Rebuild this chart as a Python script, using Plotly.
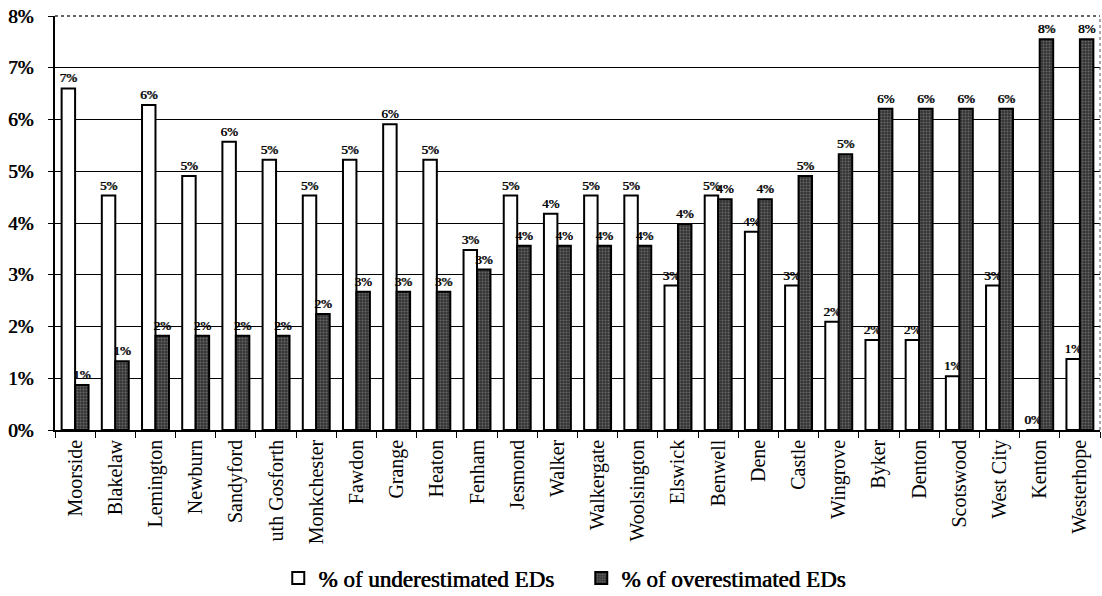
import plotly.graph_objects as go

# Wards (tick labels as printed on the axis)
wards = [
    "Moorside", "Blakelaw", "Lemington", "Newburn", "Sandyford", "uth Gosforth",
    "Monkchester", "Fawdon", "Grange", "Heaton", "Fenham", "Jesmond", "Walker",
    "Walkergate", "Woolsington", "Elswick", "Benwell", "Dene", "Castle",
    "Wingrove", "Byker", "Denton", "Scotswood", "West City", "Kenton", "Westerhope",
]

# Share of enumeration districts that were underestimated (fraction)
underestimated = [
    0.0660, 0.0453, 0.0628, 0.0491, 0.0557, 0.0522,
    0.0453, 0.0522, 0.0591, 0.0522, 0.0348, 0.0453, 0.0418,
    0.0453, 0.0453, 0.0279, 0.0453, 0.0383, 0.0279,
    0.0209, 0.0174, 0.0174, 0.0104, 0.0279, 0.0, 0.0137,
]

# Share of enumeration districts that were overestimated (fraction)
overestimated = [
    0.0087, 0.0133, 0.0182, 0.0182, 0.0182, 0.0182,
    0.0224, 0.0267, 0.0267, 0.0267, 0.0310, 0.0356, 0.0356,
    0.0356, 0.0356, 0.0398, 0.0446, 0.0446, 0.0491,
    0.0533, 0.0621, 0.0621, 0.0621, 0.0621, 0.0755, 0.0755,
]

y_ticks = [0, 0.01, 0.02, 0.03, 0.04, 0.05, 0.06, 0.07, 0.08]

SERIF = "Liberation Serif"
# a thin horizontal shadow thickens the serif strokes
HEAVY = "0.7px 0px 0px black"
label_font = dict(family=SERIF, size=13, color="black", shadow=HEAVY)

fig = go.Figure()

fig.add_trace(go.Bar(
    x=wards, y=underestimated, name="% of underestimated EDs",
    marker=dict(color="white", line=dict(color="black", width=2)),
    texttemplate="%{y:.0%}", textposition="outside",
    textfont=label_font, constraintext="none", cliponaxis=False,
))

fig.add_trace(go.Bar(
    x=wards, y=overestimated, name="% of overestimated EDs",
    marker=dict(
        color="#333333",
        line=dict(color="black", width=2),
        pattern=dict(shape=".", bgcolor="#333333", fgcolor="#a0a0a0",
                     size=3, solidity=0.35),
    ),
    texttemplate="%{y:.0%}", textposition="outside",
    textfont=label_font, constraintext="none", cliponaxis=False,
))

fig.update_layout(
    width=1102, height=596,
    margin=dict(l=55, r=2, t=16, b=166),
    paper_bgcolor="white", plot_bgcolor="white",
    barmode="group", bargap=0.33, bargroupgap=0,
    font=dict(family=SERIF, color="black"),
    showlegend=True,
    legend=dict(
        orientation="h", xref="container", yref="container",
        x=0.2525, xanchor="left", y=0.030, yanchor="middle",
        font=dict(family=SERIF, size=23, color="black", shadow=HEAVY),
        itemwidth=30, entrywidth=258, bgcolor="rgba(0,0,0,0)",
        traceorder="normal",
    ),
    xaxis=dict(
        type="category", tickangle=-90,
        tickfont=dict(family=SERIF, size=20, color="black"),
        showline=True, linecolor="black", linewidth=1.5,
        ticks="outside", tickson="boundaries", ticklen=6, tickcolor="black",
        tickwidth=1.2, showgrid=False,
    ),
    yaxis=dict(
        range=[0, 0.08], tickvals=y_ticks, tickformat=".0%",
        tickfont=dict(family=SERIF, size=19, color="black", shadow=HEAVY),
        showline=True, linecolor="black", linewidth=1.5,
        ticks="outside", ticklen=5, tickcolor="black", tickwidth=1.2,
        showgrid=True, gridcolor="black", gridwidth=1.2,
        zeroline=False, ticklabelstandoff=11,
    ),
    shapes=[
        dict(type="line", xref="paper", yref="paper", x0=1, x1=1, y0=0, y1=1,
             line=dict(color="#555555", width=1, dash="dot")),
        dict(type="line", xref="paper", yref="paper", x0=0, x1=1, y0=1, y1=1,
             line=dict(color="#333333", width=1.5, dash="dot")),
    ],
)

fig.write_html("out.html")
